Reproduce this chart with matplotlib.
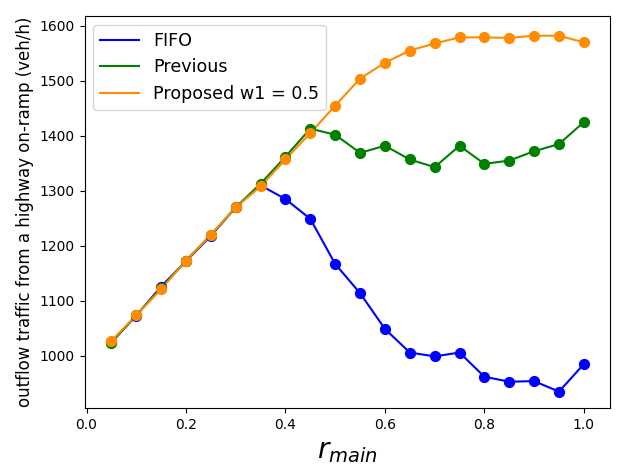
import numpy as np
import matplotlib; matplotlib.use("Agg"); import matplotlib.pyplot as plt

r_main = [0.05, 0.10, 0.15, 0.20, 0.25, 0.30, 0.35, 0.40, 0.45, 0.50,
          0.55, 0.60, 0.65, 0.70, 0.75, 0.80, 0.85, 0.90, 0.95, 1.00]
fifo = [1025, 1073, 1126, 1172, 1218, 1270, 1310, 1285, 1249, 1167,
        1114, 1049, 1006, 999, 1006, 962, 953, 954, 935, 985]
previous = [1024, 1074, 1123, 1173, 1220, 1270, 1313, 1362, 1413, 1402,
            1369, 1382, 1357, 1343, 1382, 1349, 1355, 1372, 1385, 1425]
proposed = [1027, 1074, 1121, 1173, 1220, 1270, 1308, 1357, 1405, 1455,
            1504, 1533, 1555, 1568, 1579, 1579, 1578, 1582, 1582, 1570]

series = [(fifo, "blue", "FIFO"),
          (previous, "green", "Previous"),
          (proposed, "darkorange", "Proposed w1 = 0.5")]

fig = plt.figure(figsize=(6.17, 4.68), dpi=100)
ax = fig.add_axes([0.137, 0.128, 0.852, 0.838])
for ys, c, lab in series:
    ax.plot(r_main, ys, color=c, lw=1.5, label=lab)
    ax.scatter(r_main, ys, color=c, s=50, zorder=3)

ax.set_xlim(-0.004, 1.053)
ax.set_ylim(905, 1618)
ax.set_xlabel(r"$r_{main}$", fontsize=20)
ax.set_ylabel("outflow traffic from a highway on-ramp (veh/h)", fontsize=12)
ax.legend(loc="upper left", fontsize=12.6, handlelength=2.2)
plt.savefig("out.png", dpi=100)
